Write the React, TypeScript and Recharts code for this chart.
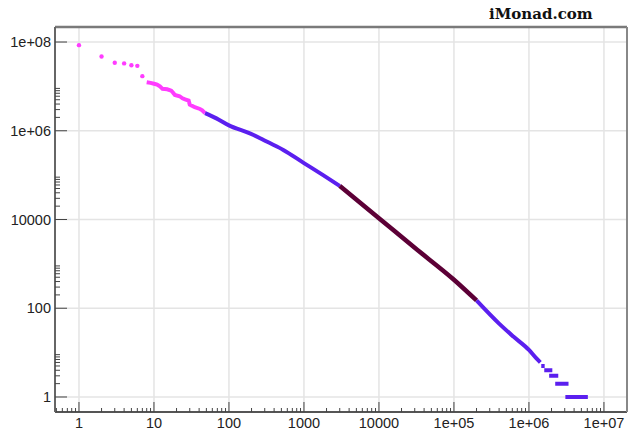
import React from 'react';
import { ComposedChart, Line, Scatter, XAxis, YAxis, CartesianGrid, ReferenceLine } from 'recharts';

// axis ticks (log-log, rank vs frequency)
const xMajorTicks = [1, 10, 100, 1000, 10000, 1e5, 1e6, 1e7];
const yMajorTicks = [1, 100, 10000, 1e6, 1e8];
const minorSteps = [2, 3, 4, 5, 6, 7, 8, 9];
const xMinorDecades = [0.1, 1, 10, 100, 1000, 1e4, 1e5, 1e6];
const yMinorDecades = [1, 100, 1e4, 1e6];

// top ranks, drawn as separate dots
const headRank = [1, 2, 3, 4, 5, 6, 7];
const headFreq = [8.5e7, 4.7e7, 3.4e7, 3.3e7, 3.0e7, 2.9e7, 1.7e7];

// pink run
const pinkRank = [8, 9, 10, 11, 12, 13, 15, 17, 18, 19, 22, 24, 26, 29, 30, 35, 41, 44, 48];
const pinkFreq = [1.24e7, 1.2e7, 1.15e7, 1.1e7, 1.0e7, 8.8e6, 8.6e6, 8.0e6, 7.2e6, 6.4e6, 6.0e6, 5.4e6, 5.1e6, 4.8e6, 3.9e6, 3.4e6, 3.1e6, 2.9e6, 2.5e6];

// blue run
const blueRank = [48, 68, 100, 190, 260, 318, 530, 1000, 1800, 3000];
const blueFreq = [2.5e6, 1.9e6, 1.32e6, 8.7e5, 6.8e5, 5.7e5, 3.7e5, 1.87e5, 1.0e5, 5.7e4];

// dark run
const darkRank = [3000, 10000, 30000, 1e5, 2e5];
const darkFreq = [5.7e4, 1.07e4, 2300, 440, 150];

// blue tail
const tailRank = [2e5, 4e5, 6.2e5, 1e6, 1.25e6, 1.42e6];
const tailFreq = [150, 45, 23, 11.5, 7.5, 6];

// flat steps at the very end
const stepFreq = [5, 4, 3, 2, 1];
const stepStart = [1.46e6, 1.6e6, 1.86e6, 2.24e6, 3.06e6];
const stepEnd = [1.62e6, 2.05e6, 2.46e6, 3.37e6, 6.1e6];

const xDomain = [0.479, 2.03e7];
const yDomain = [0.459, 2.18e8];

const PINK = '#ff3cff';
const BLUE = '#5b1fef';
const DARK = '#5c0036';
const GRID = '#e4e4e4';

const pairs = (xs: number[], ys: number[]) => xs.map((x, i) => ({ x, y: ys[i] }));

const headData = pairs(headRank, headFreq);
const pinkData = pairs(pinkRank, pinkFreq);
const blueData = pairs(blueRank, blueFreq);
const darkData = pairs(darkRank, darkFreq);
const tailData = pairs(tailRank, tailFreq);
const stepData = stepFreq.flatMap((y, i) => [
  { x: stepStart[i], y },
  { x: stepEnd[i], y },
  { x: stepEnd[i], y: null },
]);

const minorOf = (decades: number[], dom: number[]) =>
  decades.flatMap((d) => minorSteps.map((k) => k * d)).filter((v) => v > dom[0] && v < dom[1]);
const xAllTicks = [...xMajorTicks, ...minorOf(xMinorDecades, xDomain)];
const yAllTicks = [...yMajorTicks, ...minorOf(yMinorDecades, [yDomain[0], 1.5e8])];

const fmt = (v: number) =>
  v >= 1e5 ? `1e+${String(Math.round(Math.log10(v))).padStart(2, '0')}` : String(v);

const font = { fontSize: 14.5, fill: '#222', fontFamily: 'Liberation Sans, Arial, sans-serif' };
const TICK = '#444';

// ticks point into the plot, labels sit outside
const XTick = (p: any) => {
  const v = p.payload.value;
  const major = xMajorTicks.includes(v);
  return (
    <g>
      <line x1={p.x} x2={p.x} y1={p.y} y2={p.y - (major ? 10 : 4)} stroke={TICK} strokeWidth={1} />
      {major && (
        <text x={p.x} y={p.y + 6} dy="0.71em" textAnchor="middle" {...font}>
          {fmt(v)}
        </text>
      )}
    </g>
  );
};

const YTick = (p: any) => {
  const v = p.payload.value;
  const major = yMajorTicks.includes(v);
  return (
    <g>
      <line x1={p.x} x2={p.x + (major ? 12 : 5)} y1={p.y} y2={p.y} stroke={TICK} strokeWidth={1} />
      {major && (
        <text x={p.x - 4} y={p.y} dy="0.36em" textAnchor="end" {...font}>
          {fmt(v)}
        </text>
      )}
    </g>
  );
};

const Dot = (p: any) => <circle cx={p.cx} cy={p.cy} r={2.2} fill={PINK} />;

export default function App() {
  return (
    <div style={{ position: 'fixed', left: 0, top: 0, width: 628, height: 432, background: '#fff' }}>
      <ComposedChart width={628} height={432} margin={{ top: 27, right: 1, bottom: 0, left: 0 }}>
        <CartesianGrid yAxisId="g" vertical={false} stroke={GRID} strokeWidth={1.5} />
        {xMajorTicks.map((v) => (
          <ReferenceLine key={v} x={v} stroke={GRID} strokeWidth={1.5} />
        ))}
        <YAxis
          yAxisId="g" hide type="number" scale="log" domain={yDomain} allowDataOverflow
          ticks={yMajorTicks} interval={0}
        />
        <XAxis
          dataKey="x" type="number" scale="log" domain={xDomain} allowDataOverflow
          ticks={xAllTicks} interval={0} height={20} tickSize={0} tickMargin={0} tickLine={false}
          axisLine={{ stroke: '#555', strokeWidth: 2 }} tick={XTick}
        />
        <XAxis
          xAxisId="top" orientation="top" mirror height={1} type="number" scale="log"
          domain={xDomain} allowDataOverflow tick={false} tickLine={false}
          axisLine={{ stroke: '#7a7a7a', strokeWidth: 2.5 }}
        />
        <YAxis
          dataKey="y" type="number" scale="log" domain={yDomain} allowDataOverflow
          ticks={yAllTicks} interval={0} width={55} tickSize={0} tickMargin={0} tickLine={false}
          axisLine={{ stroke: '#666', strokeWidth: 2 }} tick={YTick}
        />
        <YAxis
          yAxisId="right" orientation="right" mirror width={1} type="number" scale="log"
          domain={yDomain} allowDataOverflow tick={false} tickLine={false}
          axisLine={{ stroke: '#888', strokeWidth: 2 }}
        />
        <Line data={pinkData} dataKey="y" type="linear" stroke={PINK} strokeWidth={4}
          dot={false} activeDot={false} isAnimationActive={false} />
        <Line data={blueData} dataKey="y" type="monotone" stroke={BLUE} strokeWidth={4}
          dot={false} activeDot={false} isAnimationActive={false} />
        <Line data={tailData} dataKey="y" type="monotone" stroke={BLUE} strokeWidth={4}
          dot={false} activeDot={false} isAnimationActive={false} />
        <Line data={stepData} dataKey="y" type="linear" stroke={BLUE} strokeWidth={4}
          dot={false} activeDot={false} isAnimationActive={false} />
        <Line data={darkData} dataKey="y" type="monotone" stroke={DARK} strokeWidth={4.5}
          dot={false} activeDot={false} isAnimationActive={false} />
        <Scatter data={headData} dataKey="y" fill={PINK} shape={Dot} isAnimationActive={false} />
      </ComposedChart>
      <div
        style={{
          position: 'absolute', left: 489, top: 7, fontFamily: 'DejaVu Serif, serif',
          fontWeight: 'bold', fontSize: 15, lineHeight: '15px', color: '#111',
        }}
      >
        iMonad.com
      </div>
    </div>
  );
}
